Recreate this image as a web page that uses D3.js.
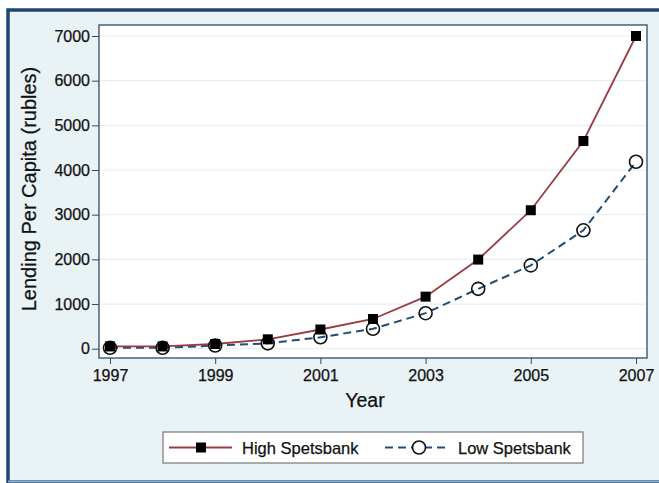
<!DOCTYPE html>
<html lang="en">
<head>
    <meta charset="UTF-8">
    <title>Lending Per Capita</title>
    <script src="https://d3js.org/d3.v7.min.js"></script>
    <style>
        body { margin: 0; background: #fff; }
        svg { display: block; font-family: "Liberation Sans", Arial, Helvetica, sans-serif; }
        svg text { stroke: #111; stroke-width: 0.25px; }
        .grid line { stroke: #e6eff3; stroke-width: 1.2; }
        .axis path, .axis line { stroke: #2f4b66; }
        .axis text { fill: #111; font-size: 16px; font-family: "Liberation Sans", Arial, Helvetica, sans-serif; }
    </style>
</head>
<body>
    <svg width="659" height="483"></svg>

    <script>
        // data
        const years = [1997, 1998, 1999, 2000, 2001, 2002, 2003, 2004, 2005, 2006, 2007];
        const highSpets = [50, 50, 105, 210, 430, 665, 1165, 1995, 3100, 4650, 7000];
        const lowSpets = [20, 20, 70, 120, 255, 445, 795, 1340, 1865, 2650, 4185];
        const yTicks = [0, 1000, 2000, 3000, 4000, 5000, 6000, 7000];
        const xTicks = [1997, 1999, 2001, 2003, 2005, 2007];

        const svg = d3.select('svg');

        // outer frame
        svg.append("rect")
            .attr("x", 0).attr("y", 0).attr("width", 659).attr("height", 483)
            .attr("fill", "#fff");
        svg.append("rect")
            .attr("x", 8).attr("y", 10).attr("width", 660).attr("height", 472)
            .attr("fill", "#e9f2f5")
            .attr("stroke", "#1e4670").attr("stroke-width", 3.5);
        svg.append("line")
            .attr("x1", 8).attr("x2", 659).attr("y1", 481.5).attr("y2", 481.5)
            .attr("stroke", "#8fb0c8").attr("stroke-width", 2);

        const plot = { left: 99, right: 647, top: 25, bottom: 358 };

        const x = d3.scaleLinear().domain([1997, 2007]).range([110, 636]);
        const y = d3.scaleLinear().domain([0, 7000]).range([348.7, 36]);

        // plot region
        svg.append("rect")
            .attr("x", plot.left).attr("y", plot.top)
            .attr("width", plot.right - plot.left).attr("height", plot.bottom - plot.top)
            .attr("fill", "#fff")
            .attr("stroke", "#2f4b66").attr("stroke-width", 1.3);

        // gridlines
        svg.append("g").attr("class", "grid")
            .selectAll("line")
            .data(yTicks)
            .join("line")
            .attr("x1", plot.left + 1).attr("x2", plot.right - 1)
            .attr("y1", d => y(d)).attr("y2", d => y(d));

        // axes
        svg.append("g")
            .attr("class", "axis")
            .attr("transform", `translate(${plot.left},0)`)
            .call(d3.axisLeft(y).tickValues(yTicks).tickFormat(d3.format("d")).tickSize(7).tickPadding(2).tickSizeOuter(0))
            .call(g => g.select(".domain").remove());

        svg.append("g")
            .attr("class", "axis")
            .attr("transform", `translate(0,${plot.bottom})`)
            .call(d3.axisBottom(x).tickValues(xTicks).tickFormat(d3.format("d")).tickSize(6).tickPadding(6).tickSizeOuter(0))
            .call(g => g.select(".domain").remove());

        // axis titles
        svg.append("text")
            .attr("x", 365).attr("y", 407)
            .attr("text-anchor", "middle")
            .attr("font-size", 19.5).attr("fill", "#111")
            .text("Year");

        svg.append("text")
            .attr("transform", `translate(36,189) rotate(-90)`)
            .attr("text-anchor", "middle")
            .attr("font-size", 20).attr("fill", "#111")
            .text("Lending Per Capita (rubles)");

        // lines
        const line = d3.line().x((d, i) => x(years[i])).y(d => y(d)).curve(d3.curveLinear);

        svg.append("path")
            .datum(lowSpets)
            .attr("d", line)
            .attr("fill", "none")
            .attr("stroke", "#1f4d78")
            .attr("stroke-width", 2)
            .attr("stroke-dasharray", "8,5");

        svg.append("path")
            .datum(highSpets)
            .attr("d", line)
            .attr("fill", "none")
            .attr("stroke", "#9a3a42")
            .attr("stroke-width", 1.8);

        // markers
        svg.append("g")
            .selectAll("circle")
            .data(lowSpets)
            .join("circle")
            .attr("cx", (d, i) => x(years[i]))
            .attr("cy", d => y(d))
            .attr("r", 6.5)
            .attr("fill", "none")
            .attr("stroke", "#111")
            .attr("stroke-width", 1.6);

        svg.append("g")
            .selectAll("rect")
            .data(highSpets)
            .join("rect")
            .attr("x", (d, i) => x(years[i]) - 5)
            .attr("y", d => y(d) - 5)
            .attr("width", 10).attr("height", 10)
            .attr("fill", "#000");

        // legend
        const legend = svg.append("g");
        legend.append("rect")
            .attr("x", 163).attr("y", 432).attr("width", 420).attr("height", 31)
            .attr("fill", "#fff")
            .attr("stroke", "#777").attr("stroke-width", 1.2);

        legend.append("line")
            .attr("x1", 169).attr("x2", 232).attr("y1", 447.5).attr("y2", 447.5)
            .attr("stroke", "#9a3a42").attr("stroke-width", 1.8);
        legend.append("rect")
            .attr("x", 196).attr("y", 442.5).attr("width", 10).attr("height", 10)
            .attr("fill", "#000");
        legend.append("text")
            .attr("x", 242).attr("y", 453.5)
            .attr("font-size", 16.5).attr("fill", "#111")
            .text("High Spetsbank");

        legend.append("line")
            .attr("x1", 385).attr("x2", 450).attr("y1", 447.5).attr("y2", 447.5)
            .attr("stroke", "#1f4d78").attr("stroke-width", 2)
            .attr("stroke-dasharray", "8,5");
        legend.append("circle")
            .attr("cx", 419).attr("cy", 447.5).attr("r", 6.5)
            .attr("fill", "#fff")
            .attr("stroke", "#111").attr("stroke-width", 1.6);
        legend.append("text")
            .attr("x", 458).attr("y", 453.5)
            .attr("font-size", 16.5).attr("fill", "#111")
            .text("Low Spetsbank");
    </script>
</body>
</html>
